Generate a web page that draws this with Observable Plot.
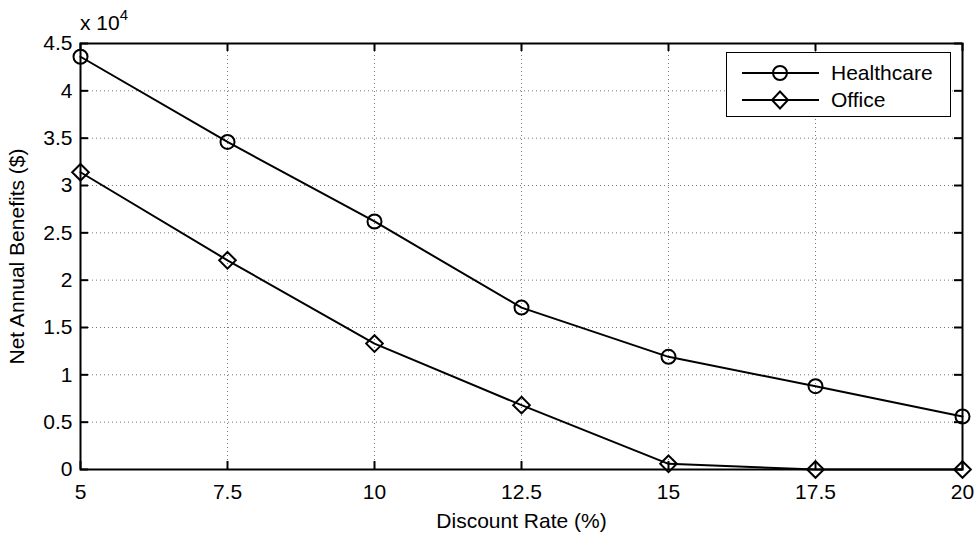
<!DOCTYPE html>
<html>
<head>
<meta charset="utf-8">
<script src="https://cdn.jsdelivr.net/npm/d3@7"></script>
<script src="https://cdn.jsdelivr.net/npm/@observablehq/plot@0.6"></script>
<style>
  html, body { margin: 0; padding: 0; background: #fff; }
  #wrap { position: relative; width: 975px; height: 536px; font-family: "Liberation Sans", Arial, sans-serif; }
  #exp { position: absolute; left: 80px; top: 12px; font-size: 21px; color: #000; line-height: 1; white-space: nowrap; }
  #exp sup { font-size: 15px; position: relative; top: -5px; vertical-align: top; }
  #legend { position: absolute; left: 726px; top: 52px; width: 225px; height: 65px; border: 1px solid #000; background: #fff; box-sizing: border-box; }
</style>
</head>
<body>
<div id="wrap"></div>
<script>
const rates = [5, 7.5, 10, 12.5, 15, 17.5, 20];
const healthcare = [43600, 34600, 26200, 17100, 11900, 8800, 5600];
const office = [31400, 22100, 13300, 6800, 600, 0, 0];
const seriesNames = ["Healthcare", "Office"];
const xTicks = [5, 7.5, 10, 12.5, 15, 17.5, 20];
const yTicks = [0, 5000, 10000, 15000, 20000, 25000, 30000, 35000, 40000, 45000];

const data = [
  ...rates.map((r, i) => ({rate: r, value: healthcare[i], series: seriesNames[0]})),
  ...rates.map((r, i) => ({rate: r, value: office[i], series: seriesNames[1]}))
];

const W = 975, H = 536, ML = 80, MR = 13, MT = 43, MB = 67;
const plotW = W - ML - MR, plotH = H - MT - MB, tickLen = 8;

const gridStyle = {stroke: "#777", strokeOpacity: 1, strokeWidth: 1, strokeDasharray: "1,3"};
const tickStyle = {stroke: "#000", strokeWidth: 2};

const chart = Plot.plot({
  width: W,
  height: H,
  marginLeft: ML,
  marginRight: MR,
  marginTop: MT,
  marginBottom: MB,
  style: {fontFamily: "'Liberation Sans', Arial, sans-serif", fontSize: "21px", color: "#000", background: "#fff"},
  x: {domain: [5, 20]},
  y: {domain: [0, 45000]},
  marks: [
    Plot.gridX(xTicks, gridStyle),
    Plot.gridY(yTicks, gridStyle),
    Plot.axisX(xTicks, {anchor: "bottom", tickSize: 0, tickPadding: 15, fontSize: 21,
      tickFormat: d => String(d), label: "Discount Rate (%)", labelAnchor: "center", labelArrow: "none", labelOffset: 58}),
    Plot.axisY(yTicks, {anchor: "left", tickSize: 0, tickPadding: 8, fontSize: 21,
      tickFormat: d => String(d / 10000), label: "Net Annual Benefits ($)", labelAnchor: "center", labelArrow: "none", labelOffset: 71}),
    // inward tick marks on all four sides
    Plot.ruleX(xTicks, {...tickStyle, insetTop: plotH - tickLen}),
    Plot.ruleX(xTicks, {...tickStyle, insetBottom: plotH - tickLen}),
    Plot.ruleY(yTicks, {...tickStyle, insetRight: plotW - tickLen}),
    Plot.ruleY(yTicks, {...tickStyle, insetLeft: plotW - tickLen}),
    Plot.frame({stroke: "#000", strokeWidth: 2}),
    Plot.line(data, {x: "rate", y: "value", z: "series", stroke: "#000", strokeWidth: 2}),
    Plot.dot(data.filter(d => d.series === "Healthcare"), {x: "rate", y: "value", symbol: "circle", r: 7, stroke: "#000", strokeWidth: 2, fill: "none"}),
    Plot.dot(data.filter(d => d.series === "Office"), {x: "rate", y: "value", symbol: "diamond2", r: 7.5, stroke: "#000", strokeWidth: 2, fill: "none"})
  ]
});

const wrap = document.getElementById("wrap");
wrap.appendChild(chart);

const exp = document.createElement("div");
exp.id = "exp";
exp.innerHTML = "x 10<sup>4</sup>";
wrap.appendChild(exp);

const legend = document.createElement("div");
legend.id = "legend";
legend.innerHTML = `
<svg width="225" height="65" style="display:block;font-family:'Liberation Sans',Arial,sans-serif;font-size:21px">
  <line x1="15" x2="92" y1="20" y2="20" stroke="#000" stroke-width="2"/>
  <circle cx="53" cy="20" r="7" fill="none" stroke="#000" stroke-width="2"/>
  <text x="104" y="20" dy="0.35em">${seriesNames[0]}</text>
  <line x1="15" x2="92" y1="47" y2="47" stroke="#000" stroke-width="2"/>
  <path d="M53,38.5L61,47L53,55.5L45,47Z" fill="none" stroke="#000" stroke-width="2"/>
  <text x="104" y="47" dy="0.35em">${seriesNames[1]}</text>
</svg>`;
wrap.appendChild(legend);
</script>
</body>
</html>
